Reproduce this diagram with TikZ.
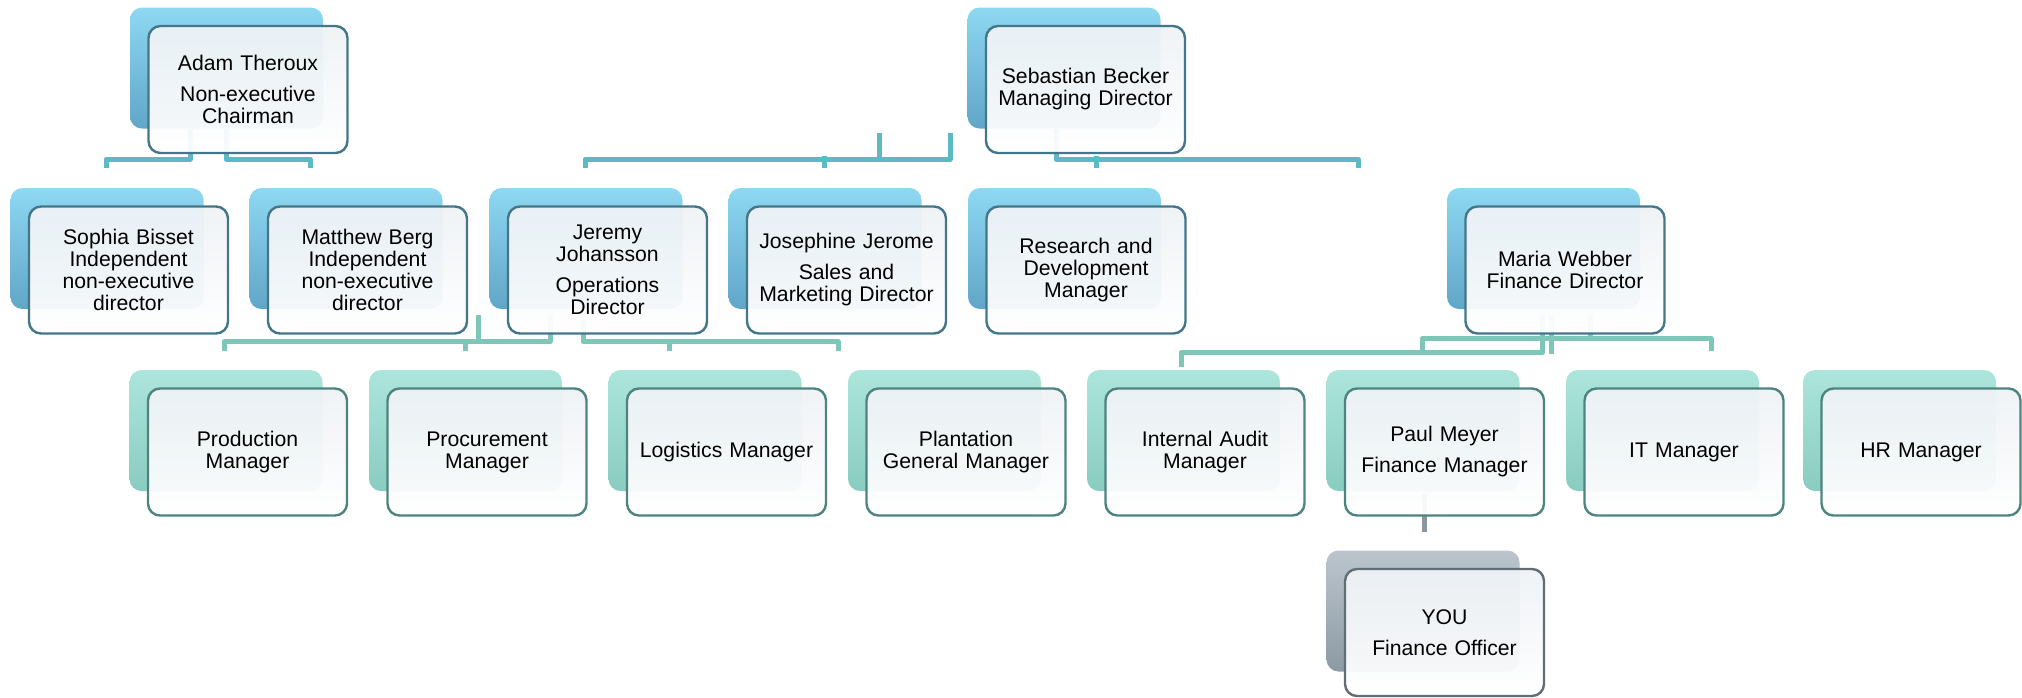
\documentclass[tikz,border=0pt]{standalone}
\usepackage{fontspec}
\setmainfont{Liberation Sans}
\usepackage{xcolor}
\usetikzlibrary{positioning, calc, backgrounds}
\definecolor{blueshadetop}{RGB}{142, 216, 242}
\definecolor{blueshadebot}{RGB}{96, 166, 200}
\definecolor{blueedge}{RGB}{68, 118, 138}
\definecolor{mintshadetop}{RGB}{172, 229, 219}
\definecolor{mintshadebot}{RGB}{138, 204, 192}
\definecolor{mintedge}{RGB}{78, 132, 128}
\definecolor{greyshadetop}{RGB}{188, 197, 204}
\definecolor{greyshadebot}{RGB}{140, 154, 164}
\definecolor{greyedge}{RGB}{98, 110, 118}
\definecolor{facetop}{RGB}{238, 242, 246}
\definecolor{topteal}{RGB}{92, 186, 196}
\definecolor{midteal}{RGB}{126, 198, 184}
\definecolor{youline}{RGB}{138, 150, 158}

\begin{document}
\begin{tikzpicture}[
  x=0.5pt, y=-0.5pt,
  every node/.style={font=\fontsize{10.6}{11}\selectfont},
  face/.style={rounded corners=6pt, minimum width=99.5pt, minimum height=63.5pt, text width=92pt, align=center, inner sep=2pt, line width=1.2pt, top color=facetop, bottom color=white, fill opacity=0.95, text opacity=1},
  bluefront/.style={face, draw=blueedge},
  mintfront/.style={face, draw=mintedge},
  greyfront/.style={face, draw=greyedge},
  back/.style={rounded corners=6pt, minimum width=96.5pt, minimum height=60.5pt, inner sep=0pt},
  blueback/.style={back, top color=blueshadetop, bottom color=blueshadebot},
  mintback/.style={back, top color=mintshadetop, bottom color=mintshadebot},
  greyback/.style={back, top color=greyshadetop, bottom color=greyshadebot},
  topline/.style={line width=2.5pt, color=topteal, line join=round},
  midline/.style={line width=2.5pt, color=midteal, line join=round},
  youlink/.style={line width=2.5pt, color=youline}
]
  \useasboundingbox (0,0) rectangle (2022,697);

  \node[bluefront] (adam) at (248,89.5) {Adam Theroux\\[4.5pt]Non-executive\\Chairman};
  \node[bluefront] (sebastian) at (1085.5,89.5) {Sebastian Becker\\Managing Director};

  \node[bluefront] (sophia) at (128.5,270) {Sophia Bisset\\Independent\\non-executive\\director};
  \node[bluefront] (matthew) at (367.5,270) {Matthew Berg\\Independent\\non-executive\\director};
  \node[bluefront] (jeremy) at (607.5,270) {Jeremy\\Johansson\\[4.5pt]Operations\\Director};
  \node[bluefront] (josephine) at (846.5,270) {Josephine Jerome\\[4.5pt]Sales and\\Marketing Director};
  \node[bluefront] (research) at (1086,270) {Research and\\Development\\Manager};
  \node[bluefront] (maria) at (1565,270) {Maria Webber\\Finance Director};

  \node[mintfront] (production) at (247.5,452) {Production\\Manager};
  \node[mintfront] (procurement) at (487,452) {Procurement\\Manager};
  \node[mintfront] (logistics) at (726.5,452) {Logistics Manager};
  \node[mintfront] (plantation) at (966,452) {Plantation\\General Manager};
  \node[mintfront] (audit) at (1205,452) {Internal Audit\\Manager};
  \node[mintfront] (paul) at (1444.5,452) {Paul Meyer\\[4.5pt]Finance Manager};
  \node[mintfront] (itman) at (1684,452) {IT Manager};
  \node[mintfront] (hrman) at (1921,452) {HR Manager};

  \node[greyfront] (you) at (1444.5,632.5) {YOU\\[4.5pt]Finance Officer};

  \begin{scope}[on background layer]
    \foreach \n in {adam,sebastian,sophia,matthew,jeremy,josephine,research,maria}
      \node[blueback] at ($(\n.center)+(-21.5,-21.5)$) {};
    \foreach \n in {production,procurement,logistics,plantation,audit,paul,itman,hrman}
      \node[mintback] at ($(\n.center)+(-21.5,-21.5)$) {};
    \node[greyback] at ($(you.center)+(-21.5,-21.5)$) {};

    \draw[topline] ($(adam.south)+(-58,-25)$) -- ++(0,30) -| ($(sophia.north)+(-22.5,-37)$);
    \draw[topline] ($(adam.south)+(-22,-25)$) -- ++(0,30) -| ($(matthew.north)+(-57.5,-37)$);

    \draw[topline] ($(sebastian.south)+(-135.5,-21)$) -- ++(0,26) -| ($(jeremy.north)+(-22.5,-37)$);
    \draw[topline] ($(sebastian.south)+(-206.5,-21)$) -- ++(0,26);
    \draw[topline] ($(josephine.north)+(-22.5,-49)$) -- ++(0,12);
    \draw[topline] ($(sebastian.south)+(-29.5,-25)$) -- ++(0,30) -| ($(maria.north)+(-207,-37)$);
    \draw[topline] ($(research.north)+(10,-49)$) -- ++(0,12);

    \draw[midline] ($(jeremy.south)+(-57.5,-20)$) -- ++(0,27) -| ($(production.north)+(-23.5,-36)$);
    \draw[midline] ($(procurement.north)+(-22,-48)$) -- ++(0,12);
    \draw[midline] ($(jeremy.south)+(-129.5,-20)$) -- ++(0,27);
    \draw[midline] ($(jeremy.south)+(-24.5,-20)$) -- ++(0,27) -| ($(plantation.north)+(-128,-36)$);
    \draw[midline] ($(logistics.north)+(-57.5,-48)$) -- ++(0,12);

    \draw[midline] ($(maria.south)+(-23,-20)$) -- ++(0,38) -| ($(audit.north)+(-24,-20)$);
    \draw[midline] ($(audit.north)+(217,-37)$) -- ++(0,-12) -| ($(itman.north)+(27,-36)$);
    \draw[midline] ($(maria.south)+(-14,-20)$) -- ++(0,39);
    \draw[midline] ($(maria.south)+(25,-20)$) -- ++(0,26);

    \draw[youlink] ($(paul.south)+(-20.5,-23)$) -- ($(you.north)+(-20.5,-36)$);
  \end{scope}

\end{tikzpicture}
\end{document}
